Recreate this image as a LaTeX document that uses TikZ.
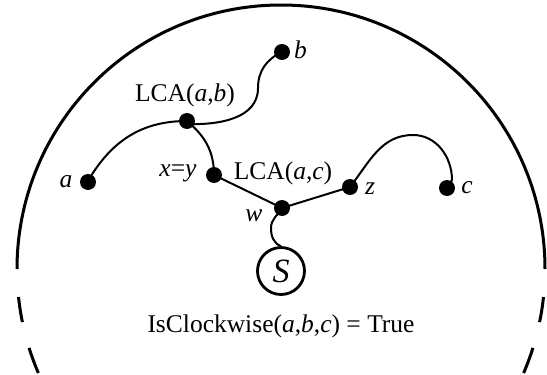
\documentclass[tikz,border=0pt]{standalone}
\usepackage{fontspec}
\setmainfont{Liberation Serif}
\begin{document}
\begin{tikzpicture}[x=1pt,y=-1pt,
  dot/.style={circle,fill=black,inner sep=0pt,minimum size=16pt},
  edge/.style={line width=2pt},
  lbl/.style={inner sep=0pt,font=\fontsize{25.5}{30}\selectfont},
  bound/.style={line width=3pt},
  snode/.style={circle,draw,line width=2.8pt,minimum size=47pt,inner sep=0pt,font=\fontsize{34}{38}\selectfont}]
\useasboundingbox (0,0) rectangle (547,375);
% outer boundary
\coordinate (O) at (281,269);
\draw[bound] (O) ++(0:264pt) arc[start angle=0,end angle=180,radius=264pt];
\draw[bound] (O) ++(186.1:264pt) arc[start angle=186.1,end angle=191.6,radius=264pt];
\draw[bound] (O) ++(197.4:264pt) arc[start angle=197.4,end angle=203.2,radius=264pt];
\draw[bound] (O) ++(-6.1:264pt) arc[start angle=-6.1,end angle=-11.6,radius=264pt];
\draw[bound] (O) ++(-17.4:264pt) arc[start angle=-17.4,end angle=-23.2,radius=264pt];
% nodes
\node[dot] (a) at (88,182) {};
\node[dot] (lab) at (187,121) {};
\node[dot] (b) at (282,52) {};
\node[dot] (xy) at (214,175) {};
\node[dot] (w) at (282,208) {};
\node[dot] (z) at (350,187) {};
\node[dot] (c) at (447,188) {};
\node[snode] (S) at (281,271) {\textit{S}};
\coordinate (m1) at (258,88);
\coordinate (m2) at (413,135);
\coordinate (m3) at (452,180);
\coordinate (m4) at (271,228);
% connectors
\draw[edge] (a.center) ++(3,-6) to[out=58,in=180] (lab.center);
\draw[edge] (lab.center) ++(0,3) to[out=-2,in=-90] (m1) to[out=90,in=205] (b.center);
\draw[edge] (lab.center) to[out=-40,in=90] (xy.center);
\draw[edge] (xy.center) -- (w.center) -- (z.center);
\draw[edge] (z.center) to[out=52,in=180] (m2) to[out=0,in=90] (m3) -- (c.center);
\draw[edge] (w.center) to[out=-120,in=90] (m4) to[out=-90,in=160] (S.north);
% labels
\node[lbl,anchor=west] (lb) at (294,50) {\textit{b}};
\node[lbl] (llab) at (185,95) {LCA(\textit{a},\textit{b})};
\node[lbl] (la) at (66,182) {\textit{a}};
\node[lbl] (lxy) at (178,173) {\textit{x}=\textit{y}};
\node[lbl] (llac) at (283,173) {LCA(\textit{a},\textit{c})};
\node[lbl] (lw) at (254,216) {\textit{w}};
\node[lbl] (lz) at (370,189) {\textit{z}};
\node[lbl] (lc) at (467,188) {\textit{c}};
\node[lbl] (lcw) at (281,326) {IsClockwise(\textit{a},\textit{b},\textit{c}) = True};
\end{tikzpicture}
\end{document}
